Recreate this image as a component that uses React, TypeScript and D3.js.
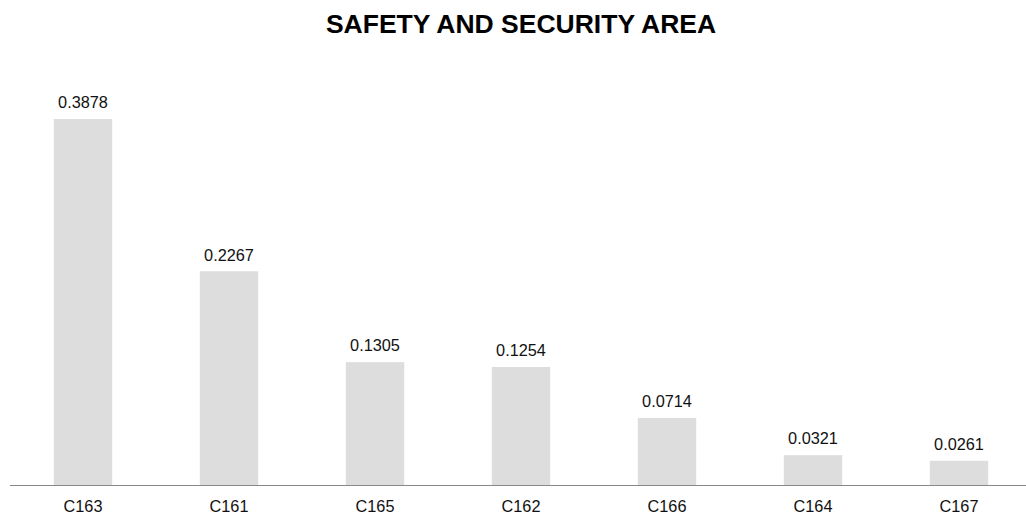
import React from "react";
import * as d3 from "d3";

const categories = ["C163", "C161", "C165", "C162", "C166", "C164", "C167"];
const values = [0.3878, 0.2267, 0.1305, 0.1254, 0.0714, 0.0321, 0.0261];
const title = "SAFETY AND SECURITY AREA";

const W = 1026;
const H = 515;
const baseY = 485.5;

export default function App() {
  const x = d3.scaleBand<string>().domain(categories).range([10, 1032]).paddingInner(0.6).paddingOuter(0.3);
  const y = d3.scaleLinear().domain([0, 0.3878]).range([baseY, 119]);
  return (
    <svg width={W} height={H} style={{ position: "absolute", left: 0, top: 0, fontFamily: "Liberation Sans, Arial, sans-serif" }}>
      <rect width={W} height={H} fill="#fff" />
      <text x={521} y={33} textAnchor="middle" fontSize={26.5} fontWeight="bold" fill="#000">{title}</text>
      {categories.map((c, i) => (
        <g key={c}>
          <rect x={x(c)} y={y(values[i])} width={x.bandwidth()} height={baseY - y(values[i])} fill="#dddddd" />
          <text x={(x(c) as number) + x.bandwidth() / 2} y={y(values[i]) - 10.7} textAnchor="middle" fontSize={16.3} fill="#111">{values[i].toFixed(4)}</text>
          <text x={(x(c) as number) + x.bandwidth() / 2} y={511.7} textAnchor="middle" fontSize={16.3} fill="#111">{c}</text>
        </g>
      ))}
      <line x1={10} x2={1026} y1={baseY} y2={baseY} stroke="#888" strokeWidth={1} />
    </svg>
  );
}
